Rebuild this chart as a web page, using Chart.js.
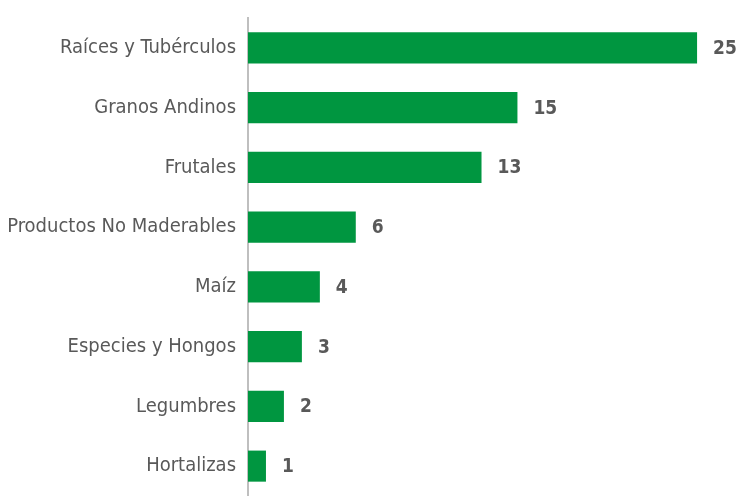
<!DOCTYPE html>
<html>
<head>
<meta charset="utf-8">
<script src="https://cdn.jsdelivr.net/npm/chart.js@4/dist/chart.umd.min.js"></script>
<style>
  html, body { margin: 0; padding: 0; background: #fff; overflow: hidden; }
  #wrap { width: 739px; height: 496px; }
</style>
</head>
<body>
<div id="wrap"><canvas id="grafico"></canvas></div>
<script>
var categorias = ["Raíces y Tubérculos", "Granos Andinos", "Frutales", "Productos No Maderables", "Maíz", "Especies y Hongos", "Legumbres", "Hortalizas"];
var valores = [25, 15, 13, 6, 4, 3, 2, 1];

var fuente = "'Liberation Sans Narrow', 'DejaVu Sans Condensed', sans-serif";

// etiquetas de valor al final de cada barra
var etiquetasValor = {
  id: 'etiquetasValor',
  afterDatasetsDraw: function(chart){
    var ctx = chart.ctx;
    var meta = chart.getDatasetMeta(0);
    ctx.save();
    ctx.font = "bold 19px " + fuente;
    ctx.fillStyle = '#595959';
    ctx.textAlign = 'left';
    ctx.textBaseline = 'middle';
    meta.data.forEach(function(bar, i){
      ctx.fillText(valores[i], bar.x + 16, bar.y + 1);
    });
    ctx.restore();
  }
};

var chart = new Chart(document.getElementById('grafico'), {
  type: 'bar',
  data: {
    labels: categorias,
    datasets: [{
      data: valores,
      backgroundColor: '#009640',
      borderWidth: 0,
      barPercentage: 0.52,
      categoryPercentage: 1
    }]
  },
  options: {
    indexAxis: 'y',
    responsive: true,
    maintainAspectRatio: false,
    animation: false,
    layout: { padding: { top: 18, right: 6, bottom: -2, left: 0 } },
    plugins: {
      legend: { display: false },
      tooltip: { enabled: false }
    },
    scales: {
      x: {
        display: false,
        min: 0,
        max: 27
      },
      y: {
        afterFit: function(scale){
          scale.width = 248;
          scale.paddingTop = 0;
          scale.paddingBottom = 0;
        },
        grid: { display: false, drawTicks: false },
        border: { display: true, color: '#bfbfbf', width: 2 },
        ticks: {
          color: '#595959',
          padding: 12,
          font: { family: fuente, size: 20 }
        }
      }
    }
  },
  plugins: [etiquetasValor]
});
</script>
</body>
</html>
